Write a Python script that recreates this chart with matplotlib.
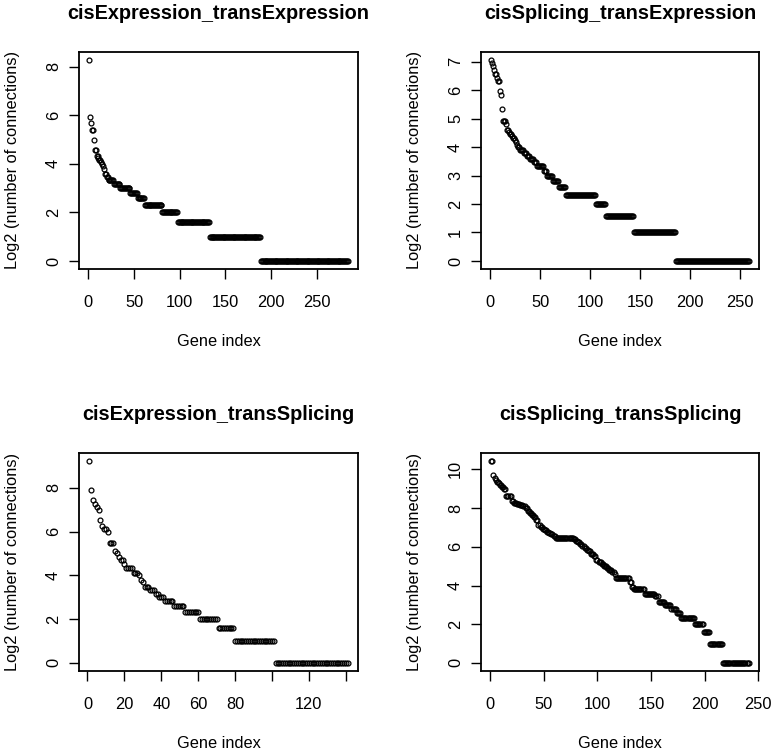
import numpy as np
import matplotlib
matplotlib.use("Agg")
import matplotlib.pyplot as plt

plt.rcParams['font.family'] = ['Liberation Sans', 'DejaVu Sans']

# ---- data: number of connections per gene (value, how many genes) ----
titles = ["cisExpression_transExpression", "cisSplicing_transExpression",
          "cisExpression_transSplicing", "cisSplicing_transSplicing"]

ee_conn = [310, 61, 52, 42, 32, 24, 20, 19, 18, 17, 16, 15, 14, 12, 11, 10, 9, 8, 7, 6, 5, 4, 3, 2, 1]
ee_reps = [1, 1, 1, 2, 1, 2, 2, 1, 2, 1, 1, 1, 1, 2, 2, 6, 7, 11, 8, 8, 19, 17, 35, 56, 96]

se_conn = [133, 123, 114, 105, 94, 85, 80, 63, 57, 40, 30, 28, 24, 23, 22, 21, 20, 19, 18, 17,
           16, 15, 14, 13, 12, 11, 10, 9, 8, 7, 6, 5, 4, 3, 2, 1]
se_reps = [1, 1, 1, 1, 2, 1, 2, 1, 1, 1, 3, 1, 2, 1, 2, 1, 2, 1, 1, 1,
           2, 4, 3, 3, 4, 3, 7, 3, 6, 6, 7, 30, 10, 28, 42, 74]

es_conn = [596, 242, 175, 155, 140, 126, 91, 76, 70, 64, 44, 35, 32, 29, 26, 23, 20, 17, 16, 14,
           13, 11, 10, 9, 8, 7, 6, 5, 4, 3, 2, 1]
es_reps = [1, 1, 1, 1, 1, 1, 1, 1, 2, 1, 3, 1, 1, 1, 2, 1, 4, 3, 1, 1,
           1, 3, 3, 2, 3, 5, 6, 8, 10, 9, 22, 40]

ss_conn = [1380, 826, 740, 700, 660, 620, 580, 540, 500, 395, 330, 310, 300, 290, 275, 260, 230,
           215, 200, 185, 170, 140, 128, 122, 116, 110, 105, 100, 95, 89, 85, 80, 75, 70, 66, 62,
           58, 55, 50, 46, 40, 37, 35, 32, 30, 28, 26, 24, 21, 18, 15, 14, 12, 11, 9, 8, 7, 6,
           5, 4, 3, 2, 1]
ss_reps = [2, 1, 1, 1, 2, 1, 2, 2, 2, 5, 2, 3, 3, 3, 2, 2, 2,
           2, 2, 2, 2, 2, 2, 2, 2, 2, 2, 2, 2, 17, 2, 2, 2, 2, 2, 2,
           2, 2, 3, 2, 2, 3, 2, 3, 2, 3, 2, 1, 13, 2, 2, 10, 10, 3, 6, 6, 5, 4,
           13, 8, 6, 12, 25]

x_ticks = [list(range(0, 251, 50)), list(range(0, 251, 50)),
           list(range(0, 141, 20)), list(range(0, 251, 50))]
x_ticklabels = [[str(t) for t in x_ticks[0]], [str(t) for t in x_ticks[1]],
                ["0", "20", "40", "60", "80", "", "120", ""], [str(t) for t in x_ticks[3]]]
y_ticks = [list(range(0, 9, 2)), list(range(0, 8)), list(range(0, 9, 2)), list(range(0, 11, 2))]

panels = [(ee_conn, ee_reps), (se_conn, se_reps), (es_conn, es_reps), (ss_conn, ss_reps)]

W, H = 776, 751
fig = plt.figure(figsize=(W / 100, H / 100), dpi=100)

boxes = [(79, 358, 52, 269), (481, 759, 52, 269), (79, 358, 453, 671), (481, 759, 453, 671)]

for i, (conn, reps) in enumerate(panels):
    l, r, t, b = boxes[i]
    ax = fig.add_axes([l / W, 1 - b / H, (r - l) / W, (b - t) / H])
    counts = np.repeat(np.array(conn, dtype=float), reps)
    y = np.log2(counts)
    x = np.arange(1, len(y) + 1)
    ax.plot(x, y, linestyle='none', marker='o', markersize=3.5, markerfacecolor='none',
            markeredgecolor='black', markeredgewidth=0.9)
    xr = x.max() - x.min()
    yr = y.max() - y.min()
    ax.set_xlim(x.min() - 0.04 * xr, x.max() + 0.04 * xr)
    ax.set_ylim(y.min() - 0.04 * yr, y.max() + 0.04 * yr)
    ax.set_xticks(x_ticks[i])
    ax.set_xticklabels(x_ticklabels[i])
    ax.set_yticks(y_ticks[i])
    ax.set_yticklabels([str(v) for v in y_ticks[i]], rotation=90, va='center')
    ax.tick_params(axis='x', direction='out', length=7, width=1, labelsize=11.8, pad=12, colors='black')
    ax.tick_params(axis='y', direction='out', length=7, width=1, labelsize=11.8, pad=6, colors='black')
    for s in ax.spines.values():
        s.set_linewidth(1.3)
    ax.set_title(titles[i], fontsize=14.3, fontweight='bold', pad=23.5)
    ax.set_xlabel("Gene index", fontsize=11.8, labelpad=17)
    ax.set_ylabel("Log2 (number of connections)", fontsize=11.8, labelpad=18.5)

fig.savefig("out.png", dpi=100)
